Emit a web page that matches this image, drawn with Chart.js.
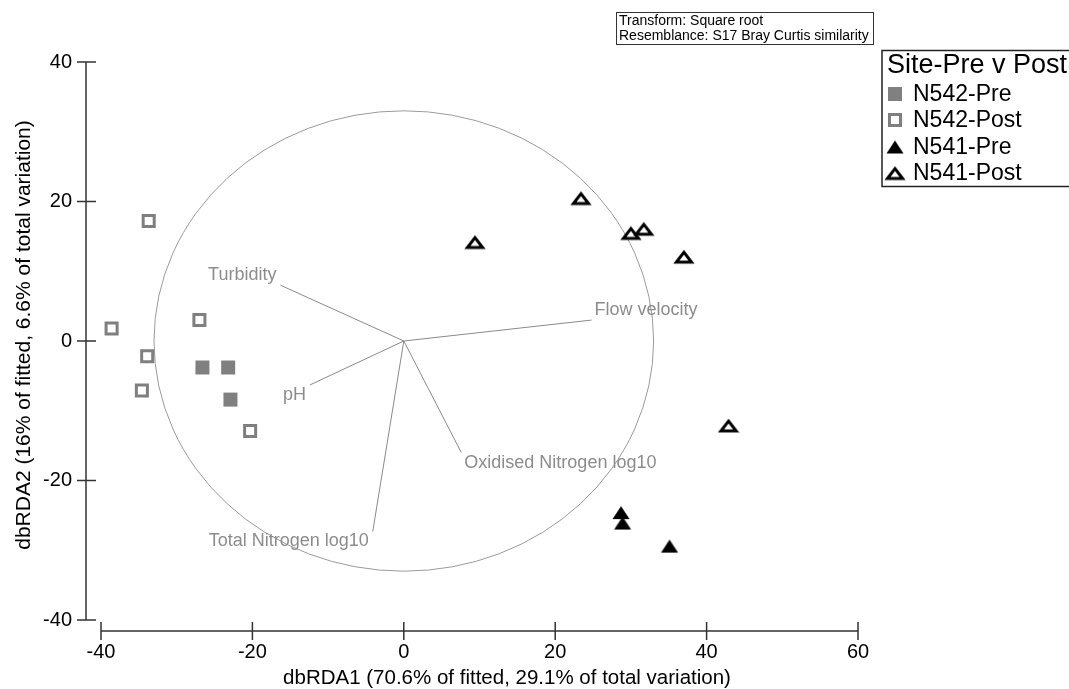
<!DOCTYPE html>
<html>
<head>
<meta charset="utf-8">
<script src="https://cdn.jsdelivr.net/npm/chart.js@4/dist/chart.umd.min.js"></script>
<style>
  html, body { margin: 0; padding: 0; background: #fff; }
</style>
</head>
<body>
<canvas id="dbrdaChart" width="1069" height="689"></canvas>
<script>
// dbRDA ordination: samples per group
const groupNames = ['N542-Pre', 'N542-Post', 'N541-Pre', 'N541-Post'];
const n542PreX = [-26.6, -23.2, -22.9];
const n542PreY = [-3.8, -3.8, -8.4];
const n542PostX = [-33.7, -38.6, -27.0, -33.9, -34.6, -20.3];
const n542PostY = [17.2, 1.8, 3.0, -2.2, -7.1, -12.9];
const n541PreX = [28.7, 28.9, 35.1];
const n541PreY = [-24.6, -26.1, -29.4];
const n541PostX = [23.4, 9.4, 30.0, 31.7, 37.0, 42.9];
const n541PostY = [20.5, 14.2, 15.5, 16.1, 12.1, -12.1];

// predictor vectors (end points, all start at the origin)
const vectorLabels = ['Turbidity', 'pH', 'Flow velocity', 'Oxidised Nitrogen log10', 'Total Nitrogen log10'];
const vectorX = [-16.3, -12.4, 24.8, 7.6, -4.1];
const vectorY = [8.0, -6.3, 3.0, -16.0, -27.3];
const circleRadius = 33.0;

const xTitle = 'dbRDA1 (70.6% of fitted, 29.1% of total variation)';
const yTitle = 'dbRDA2 (16% of fitted, 6.6% of total variation)';
const legendTitle = 'Site-Pre v Post';
const noteLines = ['Transform: Square root', 'Resemblance: S17 Bray Curtis similarity'];

const FONT = '"Liberation Sans", Arial, sans-serif';

function toPoints(xs, ys) {
    return xs.map((x, i) => ({ x: x, y: ys[i] }));
}

function makeTriangle(filled) {
    const c = document.createElement('canvas');
    c.width = 22;
    c.height = 17;
    const g = c.getContext('2d');
    g.beginPath();
    if (filled) {
        g.moveTo(11, 2);
        g.lineTo(19.5, 15);
        g.lineTo(2.5, 15);
        g.closePath();
        g.fillStyle = '#000';
        g.fill();
    } else {
        g.moveTo(11, 4.2);
        g.lineTo(18.6, 14);
        g.lineTo(3.4, 14);
        g.closePath();
        g.lineWidth = 3;
        g.strokeStyle = '#000';
        g.stroke();
    }
    return c;
}

const filledTri = makeTriangle(true);
const hollowTri = makeTriangle(false);

const pointSets = [
    { label: groupNames[0], data: toPoints(n542PreX, n542PreY), pointStyle: 'rect', pointRadius: 9.9,
      backgroundColor: '#808080', borderColor: '#808080', borderWidth: 0 },
    { label: groupNames[1], data: toPoints(n542PostX, n542PostY), pointStyle: 'rect', pointRadius: 7.8,
      backgroundColor: '#fff', borderColor: '#7f7f7f', borderWidth: 3 },
    { label: groupNames[2], data: toPoints(n541PreX, n541PreY), pointStyle: filledTri, pointRadius: 10,
      backgroundColor: '#000', borderColor: '#000', borderWidth: 0 },
    { label: groupNames[3], data: toPoints(n541PostX, n541PostY), pointStyle: hollowTri, pointRadius: 10,
      backgroundColor: '#fff', borderColor: '#000', borderWidth: 0 }
];

const vectorSets = vectorLabels.map((name, i) => ({
    label: name,
    data: [{ x: 0, y: 0 }, { x: vectorX[i], y: vectorY[i] }],
    showLine: true,
    pointRadius: 0,
    borderColor: '#8a8a8a',
    borderWidth: 1,
    isVector: true
}));

function drawMarker(ctx, ds, x, y) {
    const st = ds.pointStyle;
    if (st instanceof HTMLCanvasElement) {
        ctx.drawImage(st, x - st.width / 2, y - st.height / 2);
        return;
    }
    const half = ds.pointRadius * Math.SQRT1_2;
    ctx.beginPath();
    ctx.rect(x - half, y - half, half * 2, half * 2);
    ctx.fillStyle = ds.backgroundColor;
    ctx.fill();
    if (ds.borderWidth) {
        ctx.lineWidth = ds.borderWidth;
        ctx.strokeStyle = ds.borderColor;
        ctx.stroke();
    }
}

const ordinationExtras = {
    id: 'ordinationExtras',
    beforeDatasetsDraw(chart) {
        const { ctx, scales: { x, y } } = chart;
        const cx = x.getPixelForValue(0);
        const cy = y.getPixelForValue(0);
        const rx = x.getPixelForValue(circleRadius) - cx;
        const ry = cy - y.getPixelForValue(circleRadius);
        ctx.save();
        ctx.beginPath();
        ctx.ellipse(cx, cy, rx, ry, 0, 0, Math.PI * 2);
        ctx.strokeStyle = '#9a9a9a';
        ctx.lineWidth = 1;
        ctx.stroke();
        ctx.restore();
    },
    afterDatasetsDraw(chart) {
        const { ctx, scales: { x, y } } = chart;
        ctx.save();
        // vector labels
        ctx.font = '18px ' + FONT;
        ctx.fillStyle = '#8c8c8c';
        ctx.textBaseline = 'middle';
        vectorLabels.forEach((name, i) => {
            const px = x.getPixelForValue(vectorX[i]);
            const py = y.getPixelForValue(vectorY[i]);
            const right = vectorX[i] < 0;
            ctx.textAlign = right ? 'right' : 'left';
            ctx.fillText(name, px + (right ? -4 : 3), py + (vectorY[i] > 0 ? -10 : 10));
        });
        ctx.restore();
    },
    afterDraw(chart) {
        const { ctx, chartArea, scales: { x, y } } = chart;
        ctx.save();
        ctx.strokeStyle = '#333';
        ctx.lineWidth = 1.5;

        // y axis, set off to the left of the plot
        const ax = chartArea.left - 15;
        ctx.beginPath();
        ctx.moveTo(ax, y.getPixelForValue(y.max));
        ctx.lineTo(ax, y.getPixelForValue(y.min));
        y.ticks.forEach(t => {
            const p = y.getPixelForValue(t.value);
            ctx.moveTo(ax - 9, p);
            ctx.lineTo(ax + 10, p);
        });
        ctx.stroke();

        // x axis, set off below the plot
        const ay = chartArea.bottom + 11;
        ctx.beginPath();
        ctx.moveTo(x.getPixelForValue(x.min), ay);
        ctx.lineTo(x.getPixelForValue(x.max), ay);
        x.ticks.forEach(t => {
            const p = x.getPixelForValue(t.value);
            ctx.moveTo(p, ay - 9);
            ctx.lineTo(p, ay + 9);
        });
        ctx.stroke();

        // axis titles (off-centre in the original)
        ctx.fillStyle = '#000';
        ctx.textAlign = 'center';
        ctx.textBaseline = 'middle';
        ctx.font = '20.5px ' + FONT;
        ctx.fillText(xTitle, 507, 678);
        ctx.save();
        ctx.translate(24, 335);
        ctx.rotate(-Math.PI / 2);
        ctx.font = '21px ' + FONT;
        ctx.fillText(yTitle, 0, 0);
        ctx.restore();

        // note box at the top
        ctx.lineWidth = 1;
        ctx.strokeStyle = '#333';
        ctx.strokeRect(616.5, 12.5, 257, 32);
        ctx.font = '14px ' + FONT;
        ctx.textAlign = 'left';
        ctx.fillText(noteLines[0], 619, 21);
        ctx.fillText(noteLines[1], 619, 36);

        // legend box
        ctx.lineWidth = 1.5;
        ctx.strokeStyle = '#222';
        ctx.strokeRect(882, 50.5, 200, 136);
        ctx.font = '27px ' + FONT;
        ctx.fillText(legendTitle, 887, 66);
        ctx.font = '23px ' + FONT;
        const rows = [94, 120, 147, 173];
        chart.data.datasets.filter(d => !d.isVector).forEach((ds, i) => {
            drawMarker(ctx, ds, 895, rows[i]);
            ctx.fillStyle = '#000';
            ctx.fillText(ds.label, 913, rows[i] + 1);
        });
        ctx.restore();
    }
};

new Chart(document.getElementById('dbrdaChart'), {
    type: 'scatter',
    data: { datasets: pointSets.concat(vectorSets) },
    options: {
        responsive: false,
        animation: false,
        layout: { padding: { left: 0, top: 62, right: 211, bottom: 0 } },
        plugins: {
            legend: { display: false },
            tooltip: { enabled: false }
        },
        scales: {
            x: {
                type: 'linear',
                min: -40,
                max: 60,
                afterFit: s => { s.height = 69; },
                grid: { display: false, drawTicks: false },
                border: { display: false },
                ticks: { stepSize: 20, padding: 20, color: '#000', font: { family: FONT, size: 20 } },
                title: { display: false }
            },
            y: {
                type: 'linear',
                min: -40,
                max: 40,
                afterFit: s => { s.width = 101; },
                grid: { display: false, drawTicks: false },
                border: { display: false },
                ticks: { stepSize: 20, padding: 29, color: '#000', font: { family: FONT, size: 20 } },
                title: { display: false }
            }
        }
    },
    plugins: [ordinationExtras]
});
</script>
</body>
</html>
